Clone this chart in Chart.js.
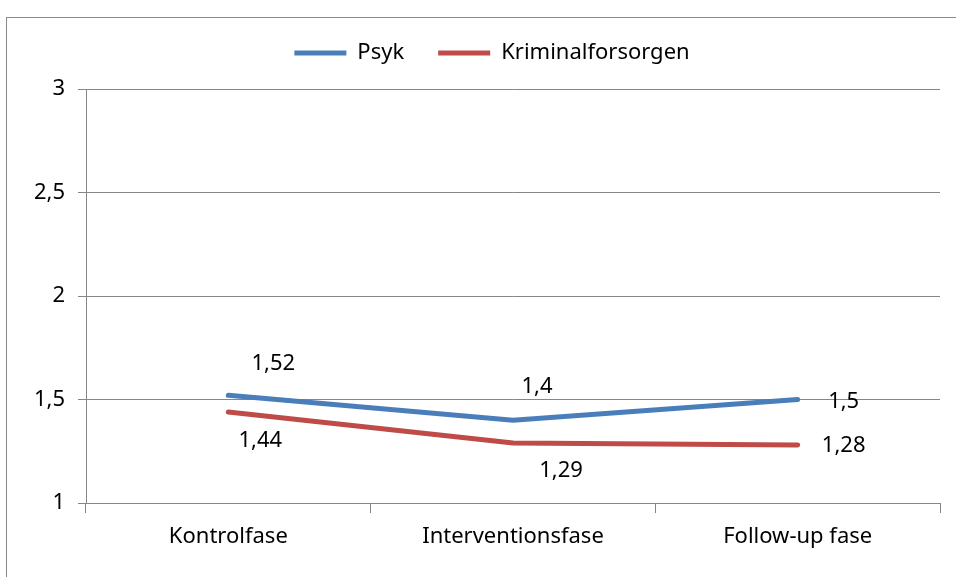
<!DOCTYPE html>
<html>
<head>
<meta charset="utf-8">
<script src="https://cdn.jsdelivr.net/npm/chart.js@4.4.1/dist/chart.umd.min.js"></script>
<style>
  html, body { margin: 0; padding: 0; background: #fff; overflow: hidden; }
  #wrap { position: relative; width: 956px; height: 577px; }
  #frame { position: absolute; left: 6px; top: 17px; width: 980px; height: 600px; border: 1px solid #8a8a8a; }
  canvas { position: absolute; left: 0; top: 0; }
</style>
</head>
<body>
<div id="wrap">
  <div id="frame"></div>
  <canvas id="chart" width="956" height="577"></canvas>
</div>
<script>
// Data
const categories = ['Kontrolfase', 'Interventionsfase', 'Follow-up fase'];
const psykValues = [1.52, 1.4, 1.5];
const kriminalValues = [1.44, 1.29, 1.28];
const yTicks = [1, 1.5, 2, 2.5, 3];

const FONT = "'Noto Sans', sans-serif";
const FONT_SIZE = 22;
const fmt = v => String(v).replace('.', ',');

// label offsets (px) relative to each point, as placed in the original
const labelOffsets = [
    [[45, -32], [24, -33], [46, 2]],
    [[32, 29], [48, 28], [46, 1]]
];

const dataLabels = {
    id: 'dataLabels',
    afterDatasetsDraw(chart) {
        const ctx = chart.ctx;
        ctx.save();
        ctx.font = FONT_SIZE + 'px ' + FONT;
        ctx.fillStyle = '#000';
        ctx.textAlign = 'center';
        ctx.textBaseline = 'middle';
        chart.data.datasets.forEach((ds, di) => {
            chart.getDatasetMeta(di).data.forEach((pt, i) => {
                const off = labelOffsets[di][i];
                ctx.fillText(fmt(ds.data[i]), pt.x + off[0], pt.y + off[1]);
            });
        });
        ctx.restore();
    }
};

// extra room under the legend and a small nudge right, like the original
const legendTweak = {
    id: 'legendTweak',
    afterInit(chart) {
        const fit = chart.legend.fit;
        chart.legend.fit = function () {
            fit.call(this);
            this.height += 15;
        };
    },
    afterLayout(chart) {
        chart.legend.left += 22;
        chart.legend.right += 22;
    }
};

new Chart(document.getElementById('chart'), {
    type: 'line',
    data: {
        labels: categories,
        datasets: [
            {
                label: 'Psyk',
                data: psykValues,
                borderColor: '#4A7EBB',
                backgroundColor: '#4A7EBB',
                borderWidth: 5,
                borderCapStyle: 'round',
                pointRadius: 0,
                tension: 0
            },
            {
                label: 'Kriminalforsorgen',
                data: kriminalValues,
                borderColor: '#BE4B48',
                backgroundColor: '#BE4B48',
                borderWidth: 5,
                borderCapStyle: 'round',
                pointRadius: 0,
                tension: 0
            }
        ]
    },
    options: {
        responsive: false,
        animation: false,
        layout: { padding: { top: 8, right: 16, left: 0, bottom: 0 } },
        plugins: {
            legend: {
                position: 'top',
                labels: {
                    usePointStyle: true,
                    pointStyle: 'line',
                    pointStyleWidth: 52,
                    padding: 34,
                    color: '#000',
                    font: { family: FONT, size: FONT_SIZE }
                }
            },
            tooltip: { enabled: false }
        },
        scales: {
            x: {
                offset: true,
                grid: {
                    offset: true,
                    drawOnChartArea: false,
                    drawTicks: true,
                    tickLength: 10,
                    color: '#868686'
                },
                border: { color: '#868686', width: 1 },
                ticks: {
                    padding: 11,
                    color: '#000',
                    font: { family: FONT, size: FONT_SIZE }
                },
                afterFit(scale) { scale.height = 74; }
            },
            y: {
                min: 1,
                max: 3,
                afterBuildTicks(scale) {
                    scale.ticks = yTicks.map(v => ({ value: v }));
                },
                grid: {
                    color: '#868686',
                    tickLength: 8
                },
                border: { color: '#868686', width: 1 },
                ticks: {
                    padding: 13,
                    color: '#000',
                    font: { family: FONT, size: FONT_SIZE },
                    callback: v => fmt(v)
                },
                afterFit(scale) { scale.width = 86; }
            }
        }
    },
    plugins: [dataLabels, legendTweak]
});
</script>
</body>
</html>
